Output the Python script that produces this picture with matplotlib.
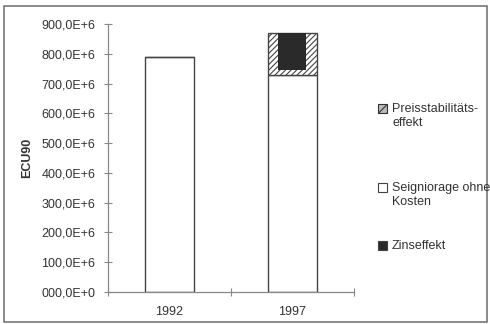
import matplotlib.pyplot as plt
from matplotlib.patches import Rectangle
from matplotlib.ticker import FuncFormatter, FixedLocator

plt.rcParams['font.family'] = ['Liberation Sans', 'DejaVu Sans']
plt.rcParams['hatch.linewidth'] = 0.8

years = ['1992', '1997']
seigniorage = [790e6, 730e6]   # Seigniorage ohne Kosten
preis = [0, 140e6]             # Preisstabilitätseffekt
zins = [0, 125e6]              # Zinseffekt (overlaid, narrower)

txt = '#333333'
edge = '#444444'

fig = plt.figure(figsize=(4.9, 3.24), dpi=100)
ax = fig.add_axes([0.220, 0.0988, 0.502, 0.827])

x = list(range(len(years)))
ax.bar(x, seigniorage, width=0.4, color='white', edgecolor=edge, linewidth=1.0)
ax.bar(x, preis, width=0.4, bottom=seigniorage, color='white', edgecolor=edge,
       hatch='//////', linewidth=1.0)
tops = [s + p for s, p in zip(seigniorage, preis)]
ax.bar(x, zins, width=0.23, bottom=[t - z for t, z in zip(tops, zins)],
       color='#2a2a2a', edgecolor='none', linewidth=0)

ax.set_xlim(-0.5, 1.5)
ax.set_ylim(0, 900e6)
ax.set_yticks([i * 100e6 for i in range(10)])

def fmt(v, pos):
    if v == 0:
        return '000,0E+0'
    return f'{v / 1e6:.1f}'.replace('.', ',') + 'E+6'

ax.yaxis.set_major_formatter(FuncFormatter(fmt))
ax.xaxis.set_major_locator(FixedLocator([-0.5, 0.5, 1.5]))
ax.xaxis.set_minor_locator(FixedLocator(x))
ax.set_xticklabels(['', '', ''])
ax.set_xticklabels(years, minor=True)
ax.tick_params(axis='x', which='minor', length=0, labelsize=9, colors=txt, pad=10)
ax.tick_params(axis='x', which='major', length=6, direction='inout', color='#888888')
ax.tick_params(axis='y', length=6, direction='inout', color='#888888',
               labelsize=9, labelcolor=txt, pad=6)

for s in ['top', 'right']:
    ax.spines[s].set_visible(False)
for s in ['left', 'bottom']:
    ax.spines[s].set_color('#888888')
    ax.spines[s].set_linewidth(0.9)

ax.set_ylabel('ECU90', fontsize=9, fontweight='bold', color=txt, labelpad=6)

# legend drawn by hand so the key sits at the first text line
leg = [
    (dict(facecolor='#bbbbbb', edgecolor='#333333', hatch='////'), 'Preisstabilitäts-\neffekt', 108),
    (dict(facecolor='white', edgecolor=edge), 'Seigniorage ohne\nKosten', 187),
    (dict(facecolor='#2a2a2a', edgecolor=edge), 'Zinseffekt', 245),
]
for style, label, ypx in leg:
    fig.add_artist(Rectangle((378 / 490, 1 - (ypx + 5) / 324), 9 / 490, 9 / 324,
                             transform=fig.transFigure, linewidth=0.8, **style))
    fig.text(392 / 490, 1 - (ypx - 5) / 324, label, fontsize=9, color=txt,
             va='top', ha='left', linespacing=1.25)

# outer frame
fig.add_artist(Rectangle((4 / 490, 2 / 324), 483 / 490, 316 / 324,
                         transform=fig.transFigure, fill=False,
                         edgecolor='#777777', linewidth=1.2))

fig.savefig('out.png', dpi=100)
